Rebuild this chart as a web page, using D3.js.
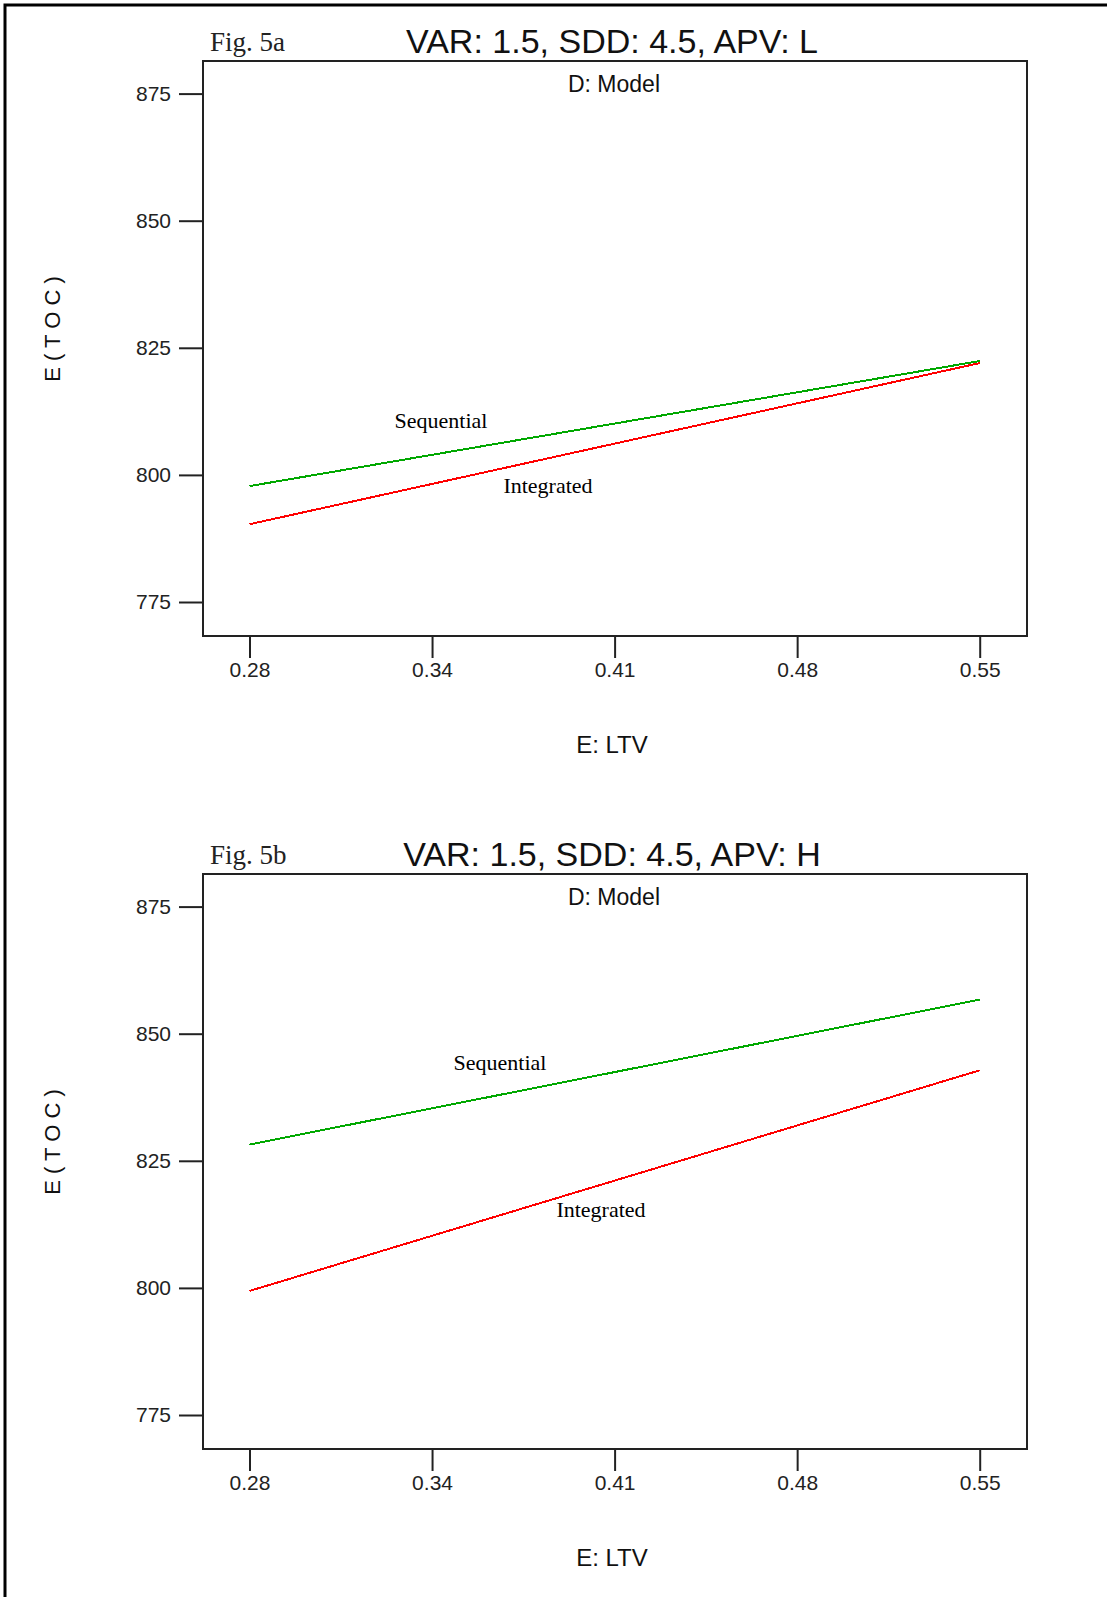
<!DOCTYPE html>
<html>
<head>
<meta charset="utf-8">
<script src="https://cdn.jsdelivr.net/npm/d3@7"></script>
<style>
  body { margin: 0; background: #fff; }
  svg { display: block; }
</style>
</head>
<body>
<div id="Area"></div>
<script>
// values
let xTickValues = [0.275, 0.34375, 0.4125, 0.48125, 0.55];
let xTickLabels = ["0.28", "0.34", "0.41", "0.48", "0.55"];
let yTickValues = [775, 800, 825, 850, 875];
let panelTitles = ["VAR: 1.5, SDD: 4.5, APV: L", "VAR: 1.5, SDD: 4.5, APV: H"];
let figLabels = ["Fig. 5a", "Fig. 5b"];
let ltv = [0.275, 0.55];
let sequentialA = [797.8, 822.4];
let integratedA = [790.3, 822.0];
let sequentialB = [828.2, 856.7];
let integratedB = [799.4, 842.8];

let panels = [
    {title: panelTitles[0], fig: figLabels[0], seq: sequentialA, int: integratedA, top: 61,
     seqLab: [441, 367], intLab: [548, 432]},
    {title: panelTitles[1], fig: figLabels[1], seq: sequentialB, int: integratedB, top: 874,
     seqLab: [500, 196], intLab: [601, 343]}
];

var width = 1107, height = 1597;
var frameLeft = 203, frameRight = 1027, frameH = 575;

var svg = d3.select("#Area")
    .append("svg")
    .attr("width", width)
    .attr("height", height);

// outer border (top and left only)
svg.append("path")
    .attr("d", "M5," + height + "V5H" + width)
    .attr("fill", "none")
    .attr("stroke", "#000")
    .attr("stroke-width", 3);

var sans = "'Liberation Sans', Arial, sans-serif";
var serif = "'Liberation Serif', 'Times New Roman', serif";

panels.forEach(function(p){
    var g = svg.append("g").attr("transform", "translate(0," + p.top + ")");

    // scales
    var x = d3.scaleLinear()
        .domain([0.275, 0.55])
        .range([249.5, 979.7]);
    var y = d3.scaleLinear()
        .domain([775, 875])
        .range([541, 32.6]);

    // x axis
    var xAxis = g.append("g")
        .attr("transform", "translate(0," + frameH + ")")
        .call(d3.axisBottom(x).tickValues(xTickValues)
            .tickFormat(function(d, i){ return xTickLabels[i]; })
            .tickSize(22).tickPadding(15));
    xAxis.select(".domain").remove();
    xAxis.selectAll("line").attr("stroke", "#222").attr("stroke-width", 2);
    xAxis.selectAll("text")
        .attr("font-family", sans).attr("font-size", 21).attr("fill", "#222")
        .attr("dy", "0.2em");

    // y axis
    var yAxis = g.append("g")
        .attr("transform", "translate(" + frameLeft + ",0)")
        .call(d3.axisLeft(y).tickValues(yTickValues).tickSize(24).tickPadding(8));
    yAxis.select(".domain").remove();
    yAxis.selectAll("line").attr("stroke", "#222").attr("stroke-width", 2);
    yAxis.selectAll("text")
        .attr("font-family", sans).attr("font-size", 21).attr("fill", "#222");

    // frame
    g.append("rect")
        .attr("x", frameLeft).attr("y", 0)
        .attr("width", frameRight - frameLeft).attr("height", frameH)
        .attr("fill", "none").attr("stroke", "#222").attr("stroke-width", 2);

    // lines
    var line = d3.line()
        .x(function(d, i){ return x(ltv[i]); })
        .y(function(d){ return y(d); });

    g.append("path").datum(p.seq)
        .attr("d", line)
        .attr("fill", "none").attr("stroke", "#00a800").attr("stroke-width", 2)
        .attr("shape-rendering", "crispEdges");
    g.append("path").datum(p.int)
        .attr("d", line)
        .attr("fill", "none").attr("stroke", "#ff0000").attr("stroke-width", 2)
        .attr("shape-rendering", "crispEdges");

    // line labels
    g.append("text").text("Sequential")
        .attr("x", p.seqLab[0]).attr("y", p.seqLab[1])
        .attr("text-anchor", "middle").attr("font-family", serif).attr("font-size", 22);
    g.append("text").text("Integrated")
        .attr("x", p.intLab[0]).attr("y", p.intLab[1])
        .attr("text-anchor", "middle").attr("font-family", serif).attr("font-size", 22);

    // titles
    g.append("text").text(p.title)
        .attr("x", 612).attr("y", -8)
        .attr("text-anchor", "middle").attr("font-family", sans).attr("font-size", 34)
        .attr("fill", "#111");
    g.append("text").text(p.fig)
        .attr("x", 210).attr("y", -10)
        .attr("font-family", serif).attr("font-size", 27).attr("fill", "#222");
    g.append("text").text("D: Model")
        .attr("x", 614).attr("y", 31)
        .attr("text-anchor", "middle").attr("font-family", sans).attr("font-size", 23)
        .attr("fill", "#111");

    // axis titles
    g.append("text").text("E: LTV")
        .attr("x", 612).attr("y", frameH + 117)
        .attr("text-anchor", "middle").attr("font-family", sans).attr("font-size", 24)
        .attr("fill", "#111");
    g.append("text").text("E ( T O C )")
        .attr("transform", "translate(60," + 268 + ") rotate(-90)")
        .attr("text-anchor", "middle").attr("font-family", sans).attr("font-size", 22)
        .attr("fill", "#111");
});
</script>
</body>
</html>
